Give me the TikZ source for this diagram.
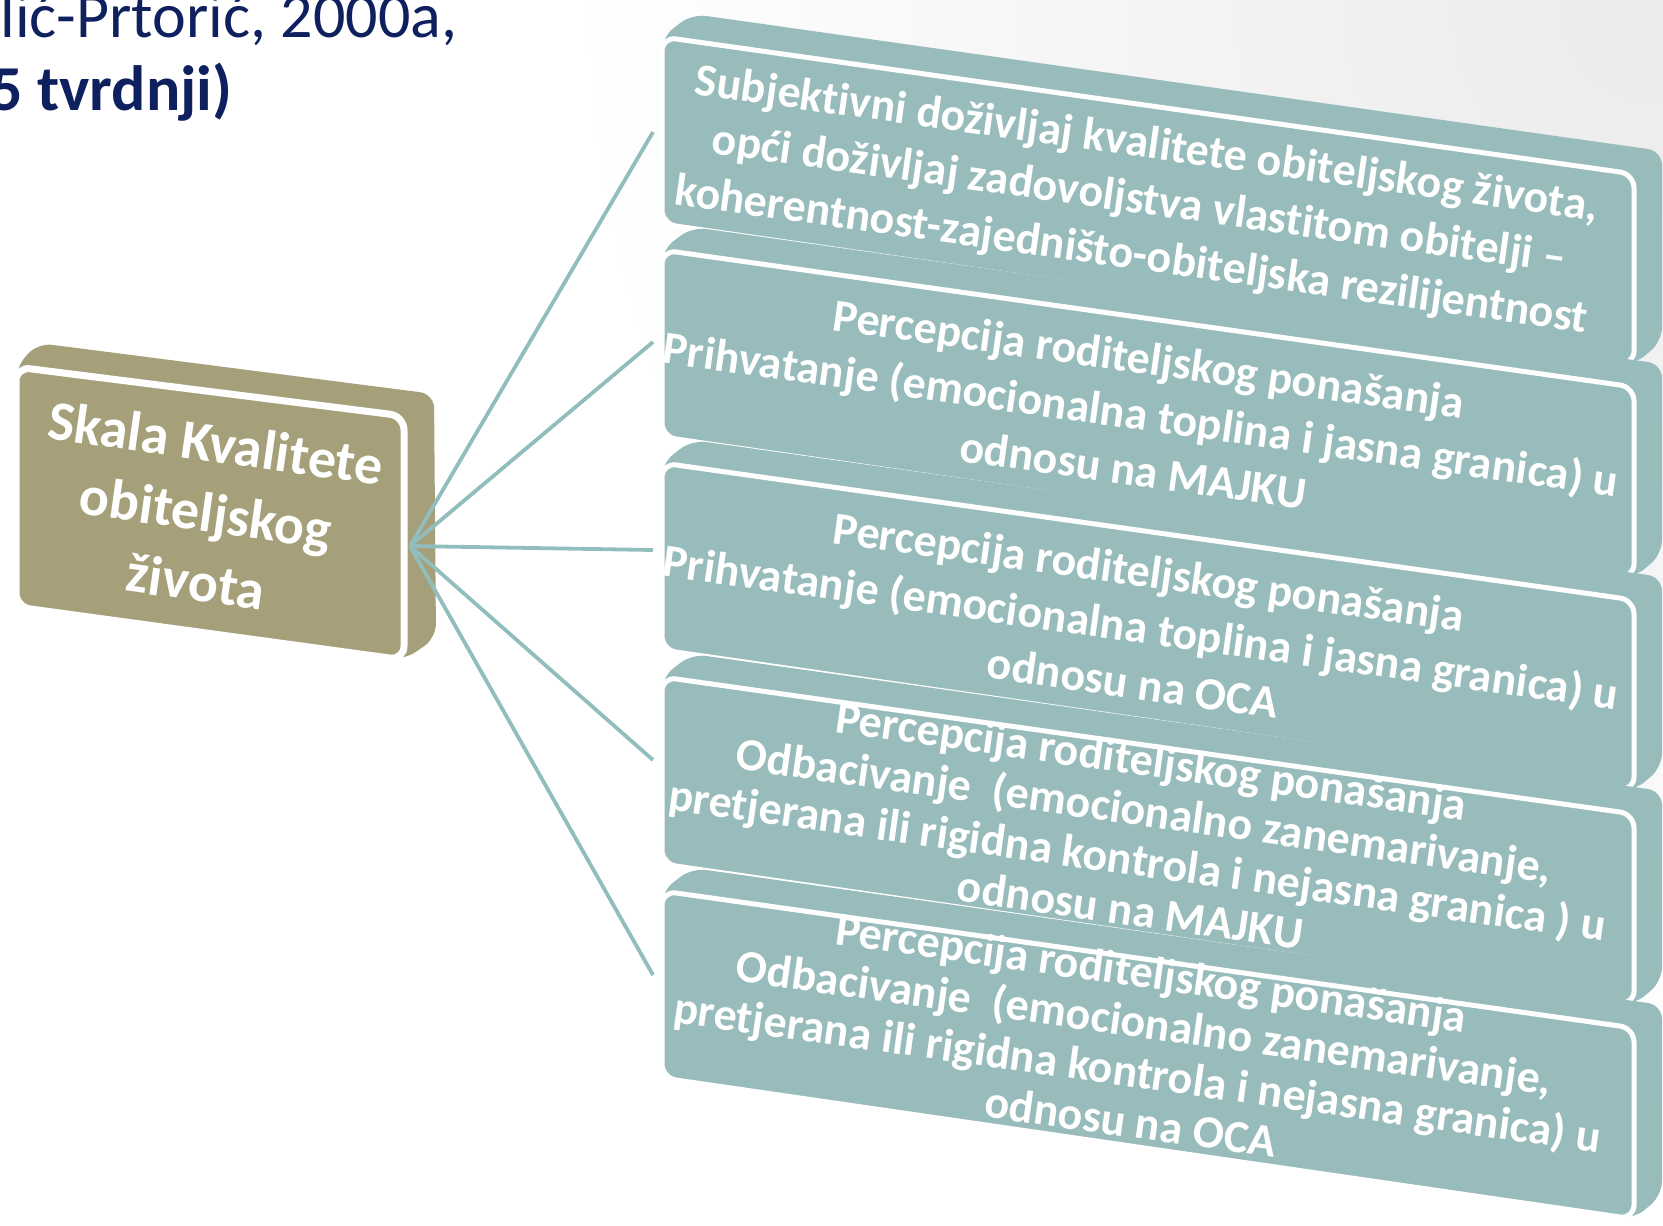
\documentclass[tikz,border=0pt]{standalone}
\usepackage{fontspec}
\setmainfont{Carlito}[Ligatures={NoCommon}]
\definecolor{navy}{RGB}{14,32,94}
\definecolor{khaki}{RGB}{165,160,122}
\definecolor{sage}{RGB}{152,188,187}
\definecolor{wire}{RGB}{146,189,189}

\begin{document}
\begin{tikzpicture}[x=0.5pt, y=-0.5pt]
\tikzstyle{plate} = [rounded corners=7pt]
\tikzstyle{face} = [draw=white, line width=2.5pt, line join=round, rounded corners=7pt]
\tikzstyle{caption} = [text=white, font=\bfseries\fontsize{23}{28}\selectfont, align=center, rotate=-8, inner sep=0pt]
\tikzstyle{tight caption} = [caption, font=\bfseries\fontsize{23}{25}\selectfont]
\tikzstyle{wire} = [draw=wire, line width=1.9pt]
\tikzstyle{heading} = [text=navy, anchor=base west, inner sep=0pt, font=\fontsize{32}{38}\selectfont]
\useasboundingbox (0,0) rectangle (1663,1225);
\begin{scope}
\clip (0,0) rectangle (1663,1225);
\shade[inner color=gray!16, outer color=white] (1663,0) circle (1100);
\end{scope}
\node[heading] (cite) at (0,38) {lić-Prtorić, 2000a,};
\node[heading, font=\bfseries\fontsize{32}{38}\selectfont] (count) at (-10,111) {5 tvrdnji)};
\fill[khaki, plate] (16,367) -- (38,343) -- (434,394) -- (436,638) -- (404,660) -- (16,607) -- cycle;
\fill[khaki, face, line width=3.5pt] (16,367) -- (404,416) -- (404,660) -- (16,607) -- cycle;
\node[caption, font=\bfseries\fontsize{28}{35}\selectfont] (scale) at (206,512) {Skala Kvalitete\\obiteljskog\\života};
\coordinate (hub) at (410,546);
\coordinate (b_1) at (653,132);
\coordinate (b_2) at (653,342);
\coordinate (b_3) at (653,550);
\coordinate (b_4) at (653,760);
\coordinate (b_5) at (653,975);
\path[wire] (hub) -- (b_1);
\path[wire] (hub) -- (b_2);
\path[wire] (hub) -- (b_3);
\path[wire] (hub) -- (b_4);
\path[wire] (hub) -- (b_5);
\foreach \y in {37,250,463,677,891} {
  \fill[sage, plate] (662,\y) -- (692,{\y-23}) -- (1662,{\y+114}) -- (1662,{\y+304}) -- (1634,{\y+328}) -- (662,{\y+187}) -- cycle;
  \fill[sage, face] (662,\y) -- (1634,{\y+137}) -- (1634,{\y+328}) -- (662,{\y+187}) -- cycle;
}
\node[caption] (t_1) at (1139,201) {Subjektivni doživljaj kvalitete obiteljskog života,\\opći doživljaj zadovoljstva vlastitom obitelji –\\koherentnost-zajedništo-obiteljska rezilijentnost};
\node[caption] (t_2) at (1141,414) {Percepcija roditeljskog ponašanja\\Prihvatanje (emocionalna toplina i jasna granica) u\\odnosu na MAJKU};
\node[caption] (t_3) at (1141,627) {Percepcija roditeljskog ponašanja\\Prihvatanje (emocionalna toplina i jasna granica) u\\odnosu na OCA};
\node[tight caption] (t_4) at (1141,835) {Percepcija roditeljskog ponašanja\\Odbacivanje\ \ (emocionalno zanemarivanje,\\pretjerana ili rigidna kontrola i nejasna granica ) u\\odnosu na MAJKU};
\node[tight caption] (t_5) at (1141,1047) {Percepcija roditeljskog ponašanja\\Odbacivanje\ \ (emocionalno zanemarivanje,\\pretjerana ili rigidna kontrola i nejasna granica) u\\odnosu na OCA};
\end{tikzpicture}
\end{document}
